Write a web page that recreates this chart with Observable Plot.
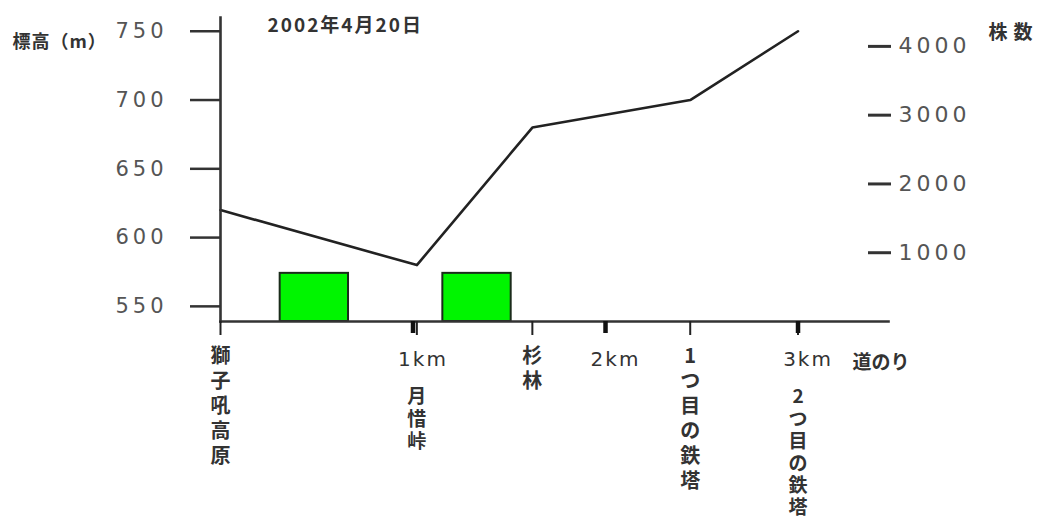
<!DOCTYPE html>
<html><head><meta charset="utf-8">
<script src="https://cdn.jsdelivr.net/npm/d3@7"></script>
<script src="https://cdn.jsdelivr.net/npm/@observablehq/plot@0.6"></script>
<style>
body{margin:0;background:#fff;}
</style></head><body><div id="chart"></div>
<script>
const title = "2002年4月20日";
const yLabel = "標高（m）";
const y2Label = "株数";
const xLabel = "道のり";
const placeNames = ["獅子吼高原", "月惜峠", "杉林", "1つ目の鉄塔", "2つ目の鉄塔"];
const placeKm = [0, 1.02, 1.62, 2.44, 3.0];
const placeElev = [620, 580, 680, 700, 750];
const placeLabelRow = [0, 1, 0, 0, 1]; // 0: right under the axis, 1: under the km label
const kmTicks = [1, 2, 3];
const elevTicks = [550, 600, 650, 700, 750];
const countTicks = [1000, 2000, 3000, 4000];
const barStartKm = [0.31, 1.155];
const barEndKm = [0.665, 1.51];
const barCounts = [700, 700];
const yDomain = [539, 760];
const xDomain = [0, 3.47];
const elevPerCount = 50 / 1000;

const countToElev = c => yDomain[0] + c * elevPerCount;
const elevToCount = e => Math.round((e - yDomain[0]) / elevPerCount);

const places = placeNames.map((name, i) => ({
  name, km: placeKm[i], elev: placeElev[i], row: placeLabelRow[i],
  vtext: Array.from(name).join("\n")
}));
const bars = barCounts.map((c, i) => ({
  x1: barStartKm[i], x2: barEndKm[i], y1: countToElev(0), y2: countToElev(c)
}));

const jp = "'Noto Sans CJK JP', 'Noto Sans', sans-serif";
const num = "'DejaVu Sans', sans-serif";

const chart = Plot.plot({
  width: 1040, height: 525,
  marginTop: 17, marginBottom: 204, marginLeft: 220, marginRight: 152,
  x: {domain: xDomain, axis: null},
  y: {domain: yDomain, axis: null},
  style: {background: "#fff", fontFamily: num},
  marks: [
    Plot.rect(bars, {x1: "x1", x2: "x2", y1: "y1", y2: "y2", fill: "#00f500", stroke: "#1b2b1b", strokeWidth: 2}),
    Plot.line(places, {x: "km", y: "elev", stroke: "#222", strokeWidth: 2.6}),
    Plot.frame({anchor: "left", stroke: "#333", strokeWidth: 2.6}),
    Plot.frame({anchor: "bottom", stroke: "#333", strokeWidth: 2.6}),
    Plot.axisY({ticks: elevTicks, tickSize: 30, tickPadding: 23, stroke: "#333", strokeWidth: 2.5,
      fill: "#555", fontSize: 21, tickFormat: d => String(d)}),
    Plot.axisY({anchor: "right", ticks: countTicks.map(countToElev), tickSize: 23, dx: -21, tickPadding: 8,
      stroke: "#333", strokeWidth: 3, fill: "#555", fontSize: 22, tickFormat: e => String(elevToCount(e))}),
    Plot.axisX({ticks: placeKm, tickSize: 14, stroke: "#222", strokeWidth: 2, tickFormat: () => ""}),
    Plot.axisX({ticks: kmTicks, tickSize: 12, stroke: "#111", strokeWidth: 4.5, tickFormat: () => ""}),
    Plot.axisX({ticks: kmTicks, tickSize: 0, tickPadding: 30, dx: 10, fill: "#333", fontSize: 20,
      tickFormat: d => `${d}km`}),
    Plot.text(places.filter(d => d.row === 0), {x: "km", text: "vtext", frameAnchor: "bottom", lineAnchor: "top",
      dy: 24, lineHeight: 1.25, fontSize: 20, fontFamily: jp, fontWeight: "bold", fill: "#333"}),
    Plot.text(places.filter(d => d.row === 1), {x: "km", text: "vtext", frameAnchor: "bottom", lineAnchor: "top",
      dy: 66, lineHeight: 1.17, fontSize: 19, fontFamily: jp, fontWeight: "bold", fill: "#333"}),
    Plot.text([xLabel], {text: d => d, frameAnchor: "bottom-right", textAnchor: "start", lineAnchor: "middle",
      dx: -36, dy: 41, fontSize: 19, fontFamily: jp, fontWeight: "bold", fill: "#333"}),
    Plot.text([title], {text: d => d, frameAnchor: "top-left", textAnchor: "start", lineAnchor: "middle",
      dx: 47, dy: 8, fontSize: 19, fontFamily: jp, fontWeight: "bold", fill: "#333"}),
    Plot.text([yLabel], {text: d => d, frameAnchor: "top-left", textAnchor: "start", lineAnchor: "middle",
      dx: -208, dy: 25, fontSize: 18, fontFamily: jp, fontWeight: "bold", fill: "#333"}),
    Plot.text([y2Label], {text: d => d, frameAnchor: "top-right", textAnchor: "start", lineAnchor: "middle",
      dx: 100, dy: 15, fontSize: 19, fontFamily: jp, fontWeight: "bold", fill: "#333"})
  ]
});

d3.select(chart).selectAll("text").each(function() {
  const t = this.textContent;
  if (/^[0-9]+$/.test(t)) this.style.letterSpacing = "4px";
  else if (/km$/.test(t)) this.style.letterSpacing = "2px";
  else if (t === title) this.style.letterSpacing = "2px";
  else if (t === yLabel) this.style.letterSpacing = "1px";
  else if (t === y2Label) this.style.letterSpacing = "6px";
});

document.getElementById("chart").appendChild(chart);
</script>
</body></html>
